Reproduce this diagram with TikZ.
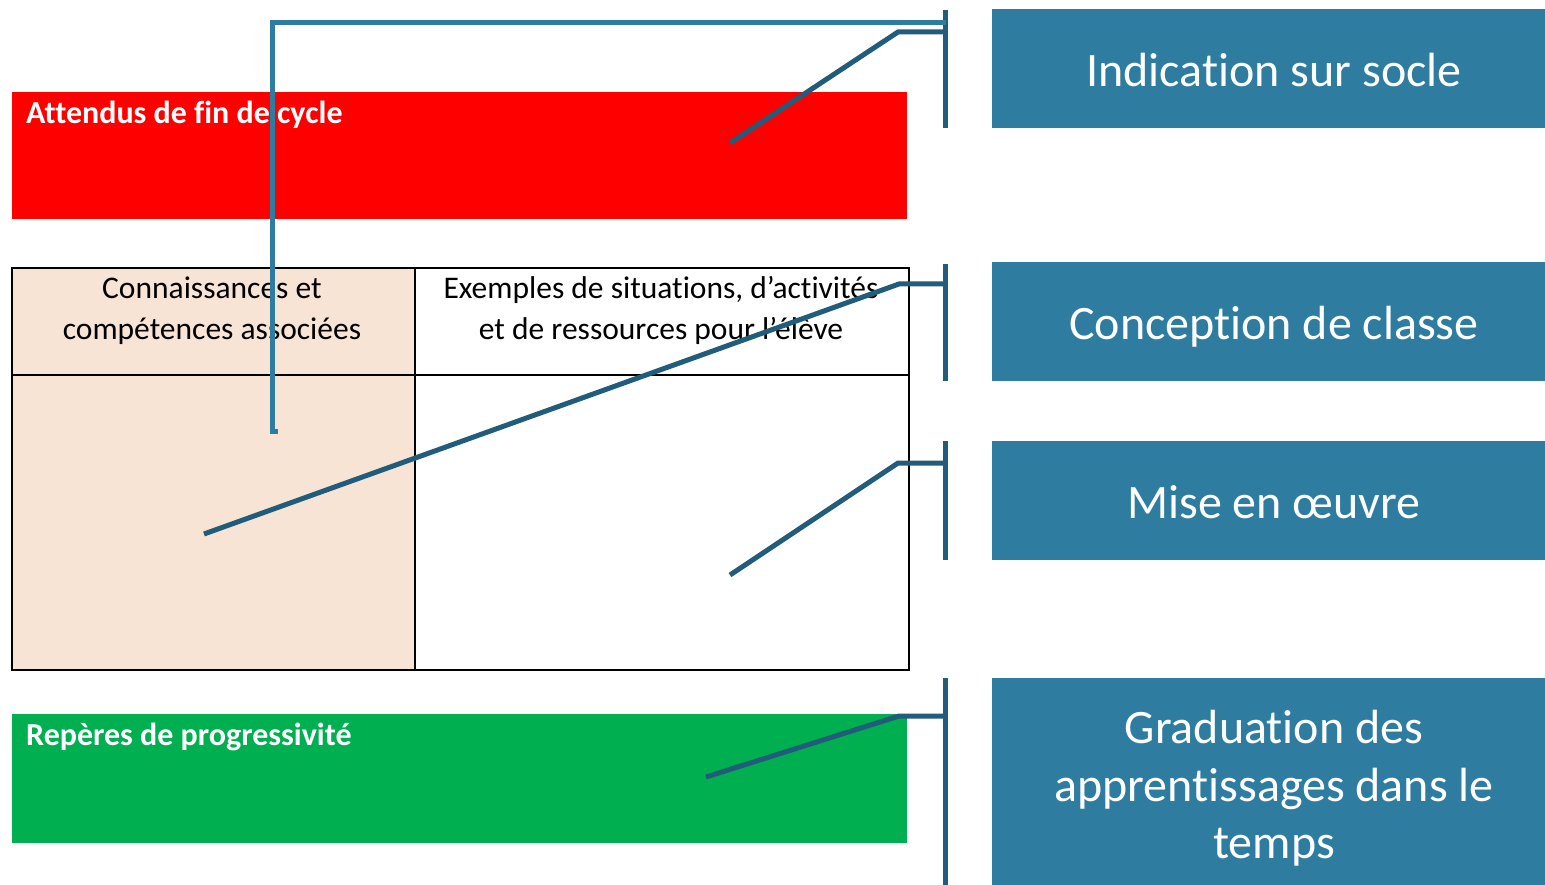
\documentclass[tikz,border=0pt]{standalone}
\usepackage{fontspec}
\setmainfont{Carlito}[Ligatures=NoCommon]
\definecolor{boxblue}{HTML}{2E7CA0}
\definecolor{darkblue}{HTML}{215C7A}
\definecolor{peach}{HTML}{F8E4D4}
\definecolor{greenbar}{HTML}{00B050}
\definecolor{redbar}{HTML}{FF0000}
\begin{document}
\begin{tikzpicture}[x=1pt,y=-1pt,
  bar/.style={anchor=north west, inner sep=0pt, minimum width=895pt},
  barlabel/.style={anchor=base west, text=white, font=\bfseries\fontsize{32}{38}\selectfont, inner sep=0pt},
  cell/.style={anchor=north west, inner sep=0pt, draw=black, line width=2.4pt},
  headtext/.style={anchor=base, inner sep=0pt, font=\fontsize{31.5}{38}\selectfont},
  bluebox/.style={anchor=north west, fill=boxblue, inner sep=0pt, minimum width=553pt},
  bluetext/.style={anchor=base, text=white, inner sep=0pt, font=\fontsize{48}{57}\selectfont},
  bracket/.style={draw=darkblue, line width=5pt},
  link/.style={draw=darkblue, line width=5pt, line join=miter},
  lightlink/.style={draw=boxblue, line width=5pt, line join=miter}]
\useasboundingbox (0,0) rectangle (1545,885);
\fill[white] (0,0) rectangle (1545,885);

% red bar
\node[bar, fill=redbar, minimum height=127pt] (attendus) at (12,92) {};
\node[barlabel] (attenduslbl) at (26,124) {Attendus de fin de cycle};

% table
\node[cell, fill=peach, minimum width=403pt, minimum height=107pt] (h1) at (11,267) {};
\node[cell, fill=white, minimum width=494pt, minimum height=107pt] (h2) at (414,267) {};
\node[cell, fill=peach, minimum width=403pt, minimum height=295pt] (c1) at (11,374) {};
\node[cell, fill=white, minimum width=494pt, minimum height=295pt] (c2) at (414,374) {};
\node[headtext] (h1a) at (212,299) {Connaissances et};
\node[headtext] (h1b) at (212,339.5) {compétences associées};
\node[headtext] (h2a) at (661,299) {Exemples de situations, d’activités};
\node[headtext] (h2b) at (661,339.5) {et de ressources pour l’élève};

% green bar
\node[bar, fill=greenbar, minimum height=129pt] (reperes) at (12,714) {};
\node[barlabel] (reperlbl) at (26,745) {Repères de progressivité};

% blue boxes
\node[bluebox, minimum height=119pt] (socle) at (992,9) {};
\node[bluetext] (soclelbl) at (1274,86.5) {Indication sur socle};
\node[bluebox, minimum height=119pt] (conception) at (992,262) {};
\node[bluetext] (conceptionlbl) at (1274,339.5) {Conception de classe};
\node[bluebox, minimum height=119pt] (mise) at (992,441) {};
\node[bluetext] (miselbl) at (1274,518.5) {Mise en œuvre};
\node[bluebox, minimum height=207pt] (graduation) at (992,678) {};
\node[bluetext] (grad1) at (1274,743) {Graduation des};
\node[bluetext] (grad2) at (1274,801) {apprentissages dans le};
\node[bluetext] (grad3) at (1274,858) {temps};

% brackets
\coordinate (b1t) at (945.5,10);  \coordinate (b1b) at (945.5,128);
\coordinate (b2t) at (945.5,264); \coordinate (b2b) at (945.5,381);
\coordinate (b3t) at (945.5,441); \coordinate (b3b) at (945.5,560);
\coordinate (b4t) at (945.5,678); \coordinate (b4b) at (945.5,885);
\draw[bracket] (b1t) -- (b1b);
\draw[bracket] (b2t) -- (b2b);
\draw[bracket] (b3t) -- (b3b);
\draw[bracket] (b4t) -- (b4b);

% light blue connector
\coordinate (l0) at (945.5,22.5);
\coordinate (l1) at (272,22.5);
\coordinate (l2) at (272,431);
\coordinate (l3) at (278,431);
\draw[lightlink] (l0) -- (l1) -- (l2) -- (l3);

% dark connectors
\coordinate (k1s) at (945.5,32); \coordinate (k1m) at (898,32); \coordinate (k1e) at (730,143);
\coordinate (k2s) at (945.5,284); \coordinate (k2m) at (899,284); \coordinate (k2e) at (204,534);
\coordinate (k3s) at (945.5,463); \coordinate (k3m) at (898,463); \coordinate (k3e) at (730,575);
\coordinate (k4s) at (945.5,716); \coordinate (k4m) at (899,716); \coordinate (k4e) at (706,777);
\draw[link] (k1s) -- (k1m) -- (k1e);
\draw[link] (k2s) -- (k2m) -- (k2e);
\draw[link] (k3s) -- (k3m) -- (k3e);
\draw[link] (k4s) -- (k4m) -- (k4e);
\end{tikzpicture}
\end{document}
